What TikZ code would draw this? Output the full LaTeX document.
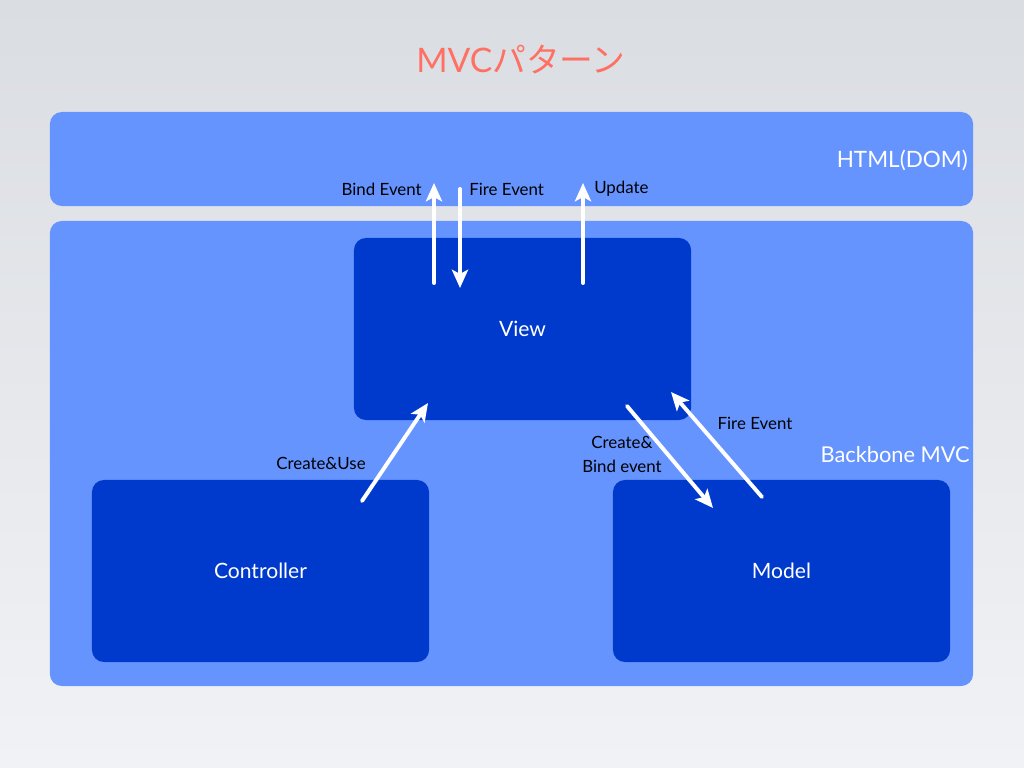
\documentclass[tikz,border=0pt]{standalone}
\usepackage{fontspec}
\setmainfont{Lato}
\newfontfamily\jpfont{Noto Sans CJK JP}
\usetikzlibrary{arrows.meta,positioning}
\definecolor{bgtop}{RGB}{218,221,226}
\definecolor{bgbot}{RGB}{241,242,245}
\definecolor{layer}{RGB}{102,148,255}
\definecolor{part}{RGB}{0,58,204}
\definecolor{titlered}{RGB}{255,112,100}
\tikzset{
  layerbox/.style={rectangle,rounded corners=0.3cm,fill=layer,draw=none,
             minimum width=23.075cm},
  partbox/.style={rectangle,rounded corners=0.3cm,fill=part,draw=none,
             minimum width=8.425cm,minimum height=4.55cm,text=white,font=\fontsize{15}{18}\selectfont},
  lbl/.style={font=\fontsize{12}{14}\selectfont,text=black,inner sep=0pt},
  flow/.style={white,line width=2.8pt,-{Stealth[length=13pt,width=11.5pt,inset=3pt]}},
  every picture/.style={line cap=round,line join=round}}

\begin{document}
\begin{tikzpicture}[x=0.025cm,y=-0.025cm]
  \useasboundingbox (0,0) rectangle (1024,768);
  \shade[top color=bgtop,bottom color=bgbot] (0,0) rectangle (1024,768);
  \node[text=titlered,font=\fontsize{24}{28}\selectfont] (title) at (521,60){MVC{\jpfont パターン}};
  % layers
  \node[layerbox,minimum height=2.35cm] (html) at (511.5,159){};
  \node[layerbox,minimum height=11.625cm] (bb) at (511.5,453.5){};
  \node[text=white,font=\fontsize{16}{19}\selectfont,anchor=east,inner sep=0pt] (htmllbl) at (968,160){HTML(DOM)};
  \node[text=white,font=\fontsize{15.5}{19}\selectfont,anchor=east,inner sep=0pt] (bblbl) at (970,455){Backbone MVC};
  % parts
  \node[partbox] (view) at (522.5,329){View};
  \node[partbox] (ctrl) at (260.5,571){Controller};
  \node[partbox] (model) at (781.5,571){Model};
  % arrow ends
  \coordinate (bindS) at (434,283);\coordinate (bindE) at (434,183);
  \coordinate (fireS) at (460,189);\coordinate (fireE) at (460,288);
  \coordinate (updS) at (583,283);\coordinate (updE) at (583,183);
  \coordinate (useS) at (362,501);\coordinate (useE) at (428,403);
  \coordinate (crS) at (627,406);\coordinate (crE) at (713,508);
  \coordinate (mfS) at (762,497);\coordinate (mfE) at (671,392);
  \draw[flow] (bindS)--(bindE);\draw[flow] (fireS)--(fireE);\draw[flow] (updS)--(updE);
  \draw[flow] (useS)--(useE);\draw[flow] (crS)--(crE);\draw[flow] (mfS)--(mfE);
  \node[lbl,anchor=east] (bindlbl) at (422,189){Bind Event};
  \node[lbl,anchor=west] (firelbl) at (469,189){Fire Event};
  \node[lbl,anchor=west] (updlbl) at (594,189){Update};
  \node[lbl] (uselbl) at (321,463){Create\&Use};
  \node[lbl,align=center,font=\fontsize{12}{17}\selectfont] (crlbl) at (622,454){Create\&\\Bind event};
  \node[lbl] (mflbl) at (755,423){Fire Event};
\end{tikzpicture}
\end{document}
